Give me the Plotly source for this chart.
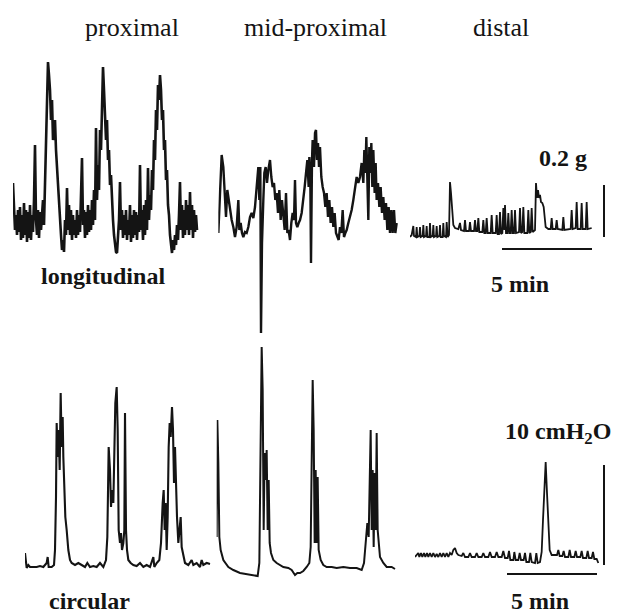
import plotly.graph_objects as go

W, H = 621, 616
TICKS_PER_MIN = 54          # chart-recorder ticks per minute (18 px per minute)
UNITS_PER_G = 260           # longitudinal tension units per gram
UNITS_PER_CMH2O = 10        # circular pressure units per cmH2O
SCALE_MIN = 5
SCALE_G = 0.2
SCALE_CMH2O = 10

column_labels = ["proximal", "mid-proximal", "distal"]
row_labels = ["longitudinal", "circular"]

# ---------------- longitudinal, proximal (uniform sampling, 3 ticks/sample)
prox_long = [77, 40, 30, 45, 25, 50, 28, 53, 20, 45, 22, 57, 25, 50, 18, 48, 22, 55, 20, 45,
             28, 60, 115, 40, 25, 50, 22, 48, 30, 45, 60, 35, 80, 110, 150, 198, 185, 170, 140, 160,
             120, 130, 140, 110, 90, 70, 50, 35, 25, 10, 20, 8, 40, 25, 72, 30, 55, 25, 50, 20,
             45, 25, 40, 22, 50, 25, 45, 28, 55, 102, 35, 50, 22, 48, 25, 55, 28, 50, 30, 60,
             35, 70, 40, 132, 60, 95, 70, 130, 110, 160, 193, 170, 150, 120, 140, 100, 110, 75, 85, 55,
             40, 25, 15, 8, 7, 25, 40, 78, 30, 50, 22, 45, 25, 50, 20, 40, 25, 55, 18, 45,
             22, 50, 25, 48, 20, 45, 28, 95, 30, 50, 20, 55, 25, 60, 30, 92, 40, 65, 50, 90,
             70, 120, 100, 150, 130, 175, 160, 185, 170, 140, 150, 110, 120, 80, 90, 55, 45, 25, 15, 7,
             20, 10, 25, 15, 35, 20, 45, 78, 30, 55, 22, 50, 25, 60, 30, 55, 25, 68, 30, 55,
             22, 50, 28, 45, 30]
PROX_LONG_STEP = 3

# ---------------- longitudinal, mid-proximal
mid_long_t = [0, 5, 10, 15, 20, 23, 27, 31, 35, 40, 45, 50, 55, 60, 63, 67, 71, 75, 80, 85,
              90, 95, 100, 105, 110, 115, 120, 123, 126, 128, 131, 135, 138, 142, 146, 150, 155, 159, 163, 167,
              171, 175, 179, 183, 187, 191, 195, 199, 203, 207, 211, 215, 219, 223, 227, 230, 233, 237, 241, 245,
              250, 255, 259, 263, 267, 271, 273, 276, 278, 281, 283, 287, 290, 293, 296, 299, 302, 305, 309, 313,
              317, 321, 325, 329, 333, 337, 341, 345, 349, 353, 357, 361, 365, 369, 373, 377, 381, 385, 390, 395,
              400, 405, 410, 415, 420, 425, 430, 435, 438, 441, 444, 447, 450, 453, 456, 459, 462, 465, 469, 472,
              475, 479, 483, 487, 491, 495, 499, 503, 507, 511, 515, 519, 523, 527, 531, 535]
mid_long = [107, 157, 185, 173, 147, 123, 150, 140, 127, 120, 113, 103, 113, 140, 110, 117, 107, 103, 108, 107,
            113, 123, 127, 122, 133, 157, 173, 140, 173, 7, 97, 140, 167, 173, 157, 170, 180, 163, 153, 157,
            140, 147, 127, 150, 120, 140, 127, 110, 147, 107, 110, 100, 117, 127, 120, 160, 117, 113, 117, 120,
            127, 140, 153, 167, 180, 153, 183, 160, 77, 180, 200, 173, 207, 210, 180, 197, 173, 193, 163, 153,
            147, 133, 147, 123, 140, 117, 133, 113, 127, 107, 103, 100, 113, 107, 130, 103, 107, 110, 117, 123,
            130, 140, 153, 163, 157, 163, 177, 157, 190, 167, 203, 157, 120, 193, 167, 197, 153, 190, 147, 177,
            140, 157, 133, 153, 127, 143, 120, 137, 110, 133, 107, 130, 107, 130, 107, 117]

# ---------------- longitudinal, distal
dist_long_t = [0, 5, 10, 12, 18, 20, 22, 28, 30, 32, 38, 40, 42, 48, 50, 52, 58, 60, 62, 68,
               70, 72, 78, 80, 82, 88, 90, 92, 98, 100, 102, 108, 110, 113, 117, 120, 123, 126, 130, 135,
               145, 150, 153, 162, 165, 168, 177, 180, 183, 192, 195, 198, 202, 205, 208, 217, 220, 223, 227, 230,
               233, 242, 245, 248, 257, 260, 263, 267, 270, 273, 277, 280, 283, 285, 288, 292, 295, 298, 302, 305,
               308, 312, 315, 318, 327, 330, 333, 337, 340, 343, 352, 355, 358, 362, 365, 368, 375, 378, 381, 384,
               387, 390, 393, 397, 401, 404, 407, 415, 422, 425, 428, 437, 440, 443, 457, 460, 463, 482, 485, 488,
               497, 500, 503, 512, 515, 518, 527, 530, 533, 545]
dist_long = [13, 15, 24, 14, 13, 23, 13, 14, 23, 13, 14, 25, 13, 14, 24, 13, 13, 27, 13, 14,
             25, 13, 14, 24, 13, 14, 25, 13, 13, 27, 14, 13, 28, 13, 15, 68, 57, 37, 25, 22,
             21, 27, 20, 19, 30, 19, 19, 28, 19, 19, 30, 19, 19, 32, 18, 18, 30, 17, 17, 32,
             17, 17, 35, 17, 17, 35, 16, 16, 38, 16, 17, 42, 20, 45, 17, 17, 37, 17, 17, 40,
             17, 17, 40, 17, 18, 42, 17, 18, 43, 17, 17, 40, 17, 18, 42, 18, 20, 67, 52, 60,
             52, 55, 48, 47, 43, 33, 23, 21, 21, 32, 21, 21, 30, 21, 20, 33, 20, 21, 40, 21,
             22, 48, 21, 21, 47, 21, 21, 48, 21, 22]

# ---------------- circular, proximal
prox_circ_t = [0, 5, 10, 15, 25, 35, 45, 55, 65, 68, 71, 80, 87, 90, 93, 95, 98, 101, 104, 107,
               110, 113, 115, 118, 121, 125, 130, 135, 140, 150, 160, 170, 180, 187, 195, 205, 215, 225, 235, 243,
               247, 251, 255, 258, 261, 265, 268, 271, 275, 278, 281, 285, 288, 291, 295, 298, 300, 303, 306, 310,
               317, 325, 335, 345, 355, 365, 375, 385, 388, 395, 403, 408, 413, 416, 419, 422, 425, 428, 431, 434,
               437, 441, 444, 447, 450, 453, 456, 460, 463, 467, 470, 475, 480, 490, 500, 505, 515, 525, 530, 535,
               545, 555]
prox_circ = [27, 12, 15, 13, 13, 13, 14, 13, 17, 23, 13, 13, 15, 30, 83, 157, 123, 150, 110, 187,
             133, 163, 123, 90, 63, 50, 30, 20, 17, 15, 17, 15, 13, 17, 13, 14, 13, 17, 13, 20,
             43, 133, 110, 73, 90, 77, 123, 177, 193, 150, 50, 37, 47, 30, 37, 50, 167, 50, 30, 20,
             17, 15, 14, 17, 13, 15, 13, 23, 13, 17, 20, 37, 77, 90, 50, 77, 30, 63, 133, 157,
             143, 173, 150, 97, 133, 83, 63, 37, 50, 63, 33, 23, 17, 15, 20, 15, 17, 13, 20, 15,
             17, 16]

# ---------------- circular, mid-proximal
mid_circ_t = [0, 2, 5, 8, 12, 20, 35, 50, 70, 90, 110, 123, 128, 132, 135, 138, 141, 144, 147, 150,
              153, 156, 159, 163, 170, 180, 190, 200, 215, 225, 235, 242, 250, 260, 270, 278, 282, 285, 288, 291,
              294, 297, 300, 303, 306, 312, 320, 330, 345, 360, 380, 400, 420, 435, 442, 447, 452, 456, 459, 462,
              465, 468, 471, 474, 477, 480, 483, 486, 490, 500, 510, 525, 535]
mid_circ = [43, 160, 117, 43, 30, 20, 13, 10, 7, 6, 5, 4, 17, 150, 233, 190, 50, 127, 100, 130,
            50, 100, 37, 27, 20, 17, 15, 13, 12, 10, 5, 7, 7, 9, 13, 17, 33, 117, 200, 150,
            37, 110, 37, 103, 30, 20, 15, 13, 13, 12, 13, 12, 12, 10, 17, 37, 57, 43, 110, 150,
            50, 110, 33, 107, 50, 147, 50, 33, 23, 17, 13, 13, 11]

# ---------------- circular, distal
dist_circ_t = [0, 5, 10, 13, 18, 22, 27, 31, 36, 40, 45, 50, 55, 60, 65, 70, 75, 80, 85, 90,
               95, 100, 105, 110, 115, 120, 125, 130, 140, 145, 150, 160, 165, 170, 180, 185, 190, 200, 205, 210,
               220, 225, 230, 240, 245, 250, 260, 265, 270, 278, 282, 286, 295, 298, 302, 310, 314, 318, 326, 330,
               334, 342, 346, 350, 360, 364, 368, 375, 380, 384, 388, 392, 396, 400, 404, 410, 420, 426, 430, 434,
               442, 446, 450, 460, 464, 468, 478, 482, 486, 496, 500, 504, 514, 518, 522, 530, 534, 538, 545, 550]
dist_circ = [23, 25, 27, 23, 27, 23, 27, 23, 27, 23, 27, 23, 27, 23, 26, 23, 27, 23, 27, 23,
             27, 23, 27, 25, 30, 32, 27, 25, 24, 27, 23, 23, 27, 23, 23, 27, 23, 23, 27, 23,
             23, 28, 23, 23, 28, 23, 23, 29, 22, 22, 29, 20, 20, 28, 20, 20, 27, 20, 20, 27,
             18, 18, 27, 18, 17, 27, 17, 18, 28, 60, 100, 118, 87, 50, 30, 25, 25, 25, 30, 24,
             24, 29, 23, 23, 30, 23, 23, 29, 23, 23, 29, 22, 22, 29, 22, 22, 28, 21, 21, 17]

prox_long_t = [i * PROX_LONG_STEP for i in range(len(prox_long))]

series = [
    (prox_long_t, prox_long),
    (mid_long_t, mid_long),
    (dist_long_t, dist_long),
    (prox_circ_t, prox_circ),
    (mid_circ_t, mid_circ),
    (dist_circ_t, dist_circ),
]
for t, v in series:
    assert len(t) == len(v)

# panel placement in page pixels: left, right, top, bottom, baseline
panels = [
    (13.0, 200.0, 50, 262, 260),
    (218.33, 402.0, 110, 342, 340),
    (410.0, 612.0, 140, 260, 250),
    (25.0, 215.0, 380, 582, 580),
    (216.67, 402.0, 340, 582, 580),
    (415.0, 612.0, 420, 585, 580),
]
line_widths = [2.6, 2.4, 1.8, 2.1, 2.0, 1.8]
PX_PER_TICK = 1 / 3.0
INK = "#141414"

fig = go.Figure()
layout_axes = {}
for i, ((t, v), (l, r, top, bot, base), lw) in enumerate(zip(series, panels, line_widths), start=1):
    xa = "x" if i == 1 else f"x{i}"
    ya = "y" if i == 1 else f"y{i}"
    fig.add_trace(go.Scatter(x=t, y=v, xaxis=xa, yaxis=ya, mode="lines",
                             line=dict(color=INK, width=lw),
                             hoverinfo="skip", showlegend=False))
    layout_axes["xaxis" if i == 1 else f"xaxis{i}"] = dict(
        domain=[l / W, r / W], range=[0, (r - l) / PX_PER_TICK], visible=False,
        anchor=ya, fixedrange=True)
    layout_axes["yaxis" if i == 1 else f"yaxis{i}"] = dict(
        domain=[1 - bot / H, 1 - top / H], range=[base - bot, base - top], visible=False,
        anchor=xa, fixedrange=True)

# scale bars (time bar start and vertical bar position are layout choices)
bar_t0_long, bar_y_long, vbar_t_long, vbar_y0_long = 276, 1, 582, 13
bar_t0_circ, bar_y_circ, vbar_t_circ, vbar_y0_circ = 276, 6, 567, 15
fig.add_trace(go.Scatter(x=[bar_t0_long, bar_t0_long + SCALE_MIN * TICKS_PER_MIN], y=[bar_y_long] * 2,
                         xaxis="x3", yaxis="y3", mode="lines", line=dict(color=INK, width=2),
                         hoverinfo="skip", showlegend=False))
fig.add_trace(go.Scatter(x=[vbar_t_long] * 2, y=[vbar_y0_long, vbar_y0_long + SCALE_G * UNITS_PER_G],
                         xaxis="x3", yaxis="y3", mode="lines", line=dict(color=INK, width=2),
                         hoverinfo="skip", showlegend=False))
fig.add_trace(go.Scatter(x=[bar_t0_circ, bar_t0_circ + SCALE_MIN * TICKS_PER_MIN], y=[bar_y_circ] * 2,
                         xaxis="x6", yaxis="y6", mode="lines", line=dict(color=INK, width=2),
                         hoverinfo="skip", showlegend=False))
fig.add_trace(go.Scatter(x=[vbar_t_circ] * 2, y=[vbar_y0_circ, vbar_y0_circ + SCALE_CMH2O * UNITS_PER_CMH2O],
                         xaxis="x6", yaxis="y6", mode="lines", line=dict(color=INK, width=2),
                         hoverinfo="skip", showlegend=False))

FONT = "Liberation Serif, Times New Roman, serif"
def label(text, px, py, size, bold=False):
    fig.add_annotation(x=px / W, y=1 - py / H, xref="paper", yref="paper",
                       text=f"<b>{text}</b>" if bold else text, showarrow=False,
                       xanchor="center", yanchor="middle",
                       font=dict(family=FONT, size=size, color=INK))

label(column_labels[0], 132, 28, 26)
label(column_labels[1], 315, 28, 26)
label(column_labels[2], 501, 28, 26)
label(row_labels[0], 103, 276, 24, bold=True)
label(row_labels[1], 89, 601, 24, bold=True)
label(f"{SCALE_MIN} min", 520, 284, 24, bold=True)
label(f"{SCALE_G} g", 563, 158, 24, bold=True)
label(f"{SCALE_CMH2O} cmH<sub>2</sub>O", 558, 433, 24, bold=True)
label(f"{SCALE_MIN} min", 540, 601, 24, bold=True)

fig.update_layout(width=W, height=H, margin=dict(l=0, r=0, t=0, b=0),
                  paper_bgcolor="white", plot_bgcolor="rgba(0,0,0,0)", **layout_axes)
fig.write_html("out.html", config={"displayModeBar": False})
